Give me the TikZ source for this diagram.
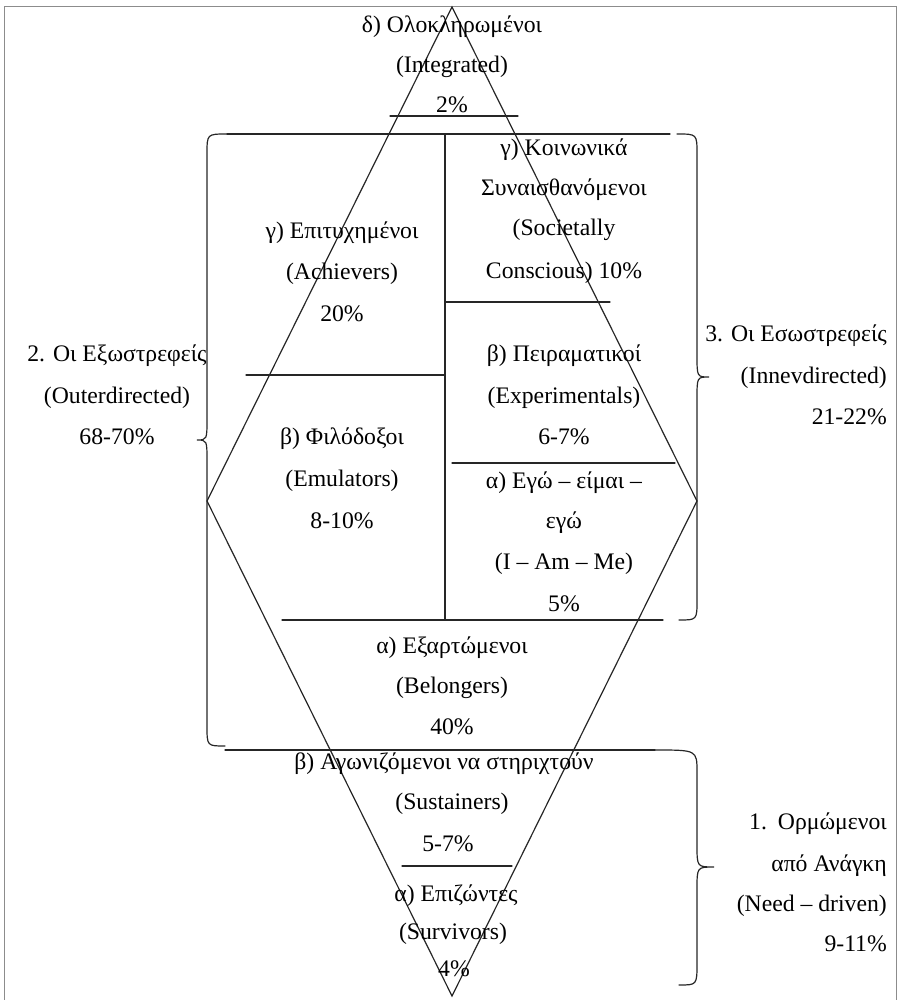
\documentclass[tikz,border=0pt]{standalone}
\usepackage{fontspec}
\setmainfont{Liberation Serif}
\begin{document}
\begin{tikzpicture}[x=1pt,y=-1pt,
  lbl/.style={font=\fontsize{23.7}{28}\selectfont, text=black, inner sep=0pt, anchor=base},
  lblr/.style={lbl, anchor=base east},
  ln/.style={line width=1.2pt, black!85, line cap=round},
  frame/.style={line width=1pt, black!45}]
\useasboundingbox (0,0) rectangle (898,1000);

% outer frame
\draw[frame] (4,1000) -- (4,7) -- (896.5,7) -- (896.5,1000);

% the diamond
\coordinate (top) at (452,7);
\coordinate (lft) at (207,501);
\coordinate (rgt) at (697,501);
\coordinate (bot) at (452,996);
\draw[ln] (top) -- (lft) -- (bot) -- (rgt) -- cycle;

% horizontal dividers
\draw[ln] (390,116) -- (518,116);
\draw[ln] (227,134) -- (670,134);
\draw[ln] (445,134) -- (445,620);
\draw[ln] (246,375) -- (445,375);
\draw[ln] (445,302) -- (610,302);
\draw[ln] (452,463) -- (675,463);
\draw[ln] (282,620) -- (663,620);
\draw[ln] (225,750) -- (655,750);
\draw[ln] (402,866) -- (512,866);

% left brace
\draw[ln] (227,134) .. controls (207,134) .. (207,154) -- (207,418)
  .. controls (207,440) .. (197,440) .. controls (207,440) .. (207,462)
  -- (207,726) .. controls (207,746) .. (225,746);
% upper right brace
\draw[ln] (677,134) .. controls (697,134) .. (697,154) -- (697,355)
  .. controls (697,377) .. (709,377) .. controls (697,377) .. (697,399)
  -- (697,600) .. controls (697,620) .. (679,620);
% lower right brace
\draw[ln] (655,750) .. controls (697,750) .. (697,772) -- (697,845)
  .. controls (697,867) .. (714,867) .. controls (697,867) .. (697,889)
  -- (697,963) .. controls (697,985) .. (679,985);

% top segment
\node[lbl] (d1) at (452,33) {δ) Ολοκληρωμένοι};
\node[lbl] (d2) at (452,73) {(Integrated)};
\node[lbl] (d3) at (452,113) {2\%};

% right column
\node[lbl] (g1) at (564,156) {γ) Κοινωνικά};
\node[lbl] (g2) at (564,196) {Συναισθανόμενοι};
\node[lbl] (g3) at (564,236) {(Societally};
\node[lbl] (g4) at (564,278) {Conscious) 10\%};
\node[lbl] (p1) at (564,361) {β) Πειραματικοί};
\node[lbl] (p2) at (564,403) {(Experimentals)};
\node[lbl] (p3) at (564,444) {6-7\%};
\node[lbl] (e1) at (564,488) {α) Εγώ – είμαι –};
\node[lbl] (e2) at (564,528) {εγώ};
\node[lbl] (e3) at (564,569) {(I – Am – Me)};
\node[lbl] (e4) at (564,611) {5\%};

% left column
\node[lbl] (a1) at (342,238) {γ) Επιτυχημένοι};
\node[lbl] (a2) at (342,279) {(Achievers)};
\node[lbl] (a3) at (342,321) {20\%};
\node[lbl] (f1) at (342,444) {β) Φιλόδοξοι};
\node[lbl] (f2) at (342,486) {(Emulators)};
\node[lbl] (f3) at (342,528) {8-10\%};

% belongers
\node[lbl] (b1) at (452,653) {α) Εξαρτώμενοι};
\node[lbl] (b2) at (452,693) {(Belongers)};
\node[lbl] (b3) at (452,734) {40\%};

% bottom segment
\node[lbl] (s1) at (444,769) {β) Αγωνιζόμενοι να στηριχτούν};
\node[lbl] (s2) at (452,809) {(Sustainers)};
\node[lbl] (s3) at (448,851) {5-7\%};
\node[lbl] (v1) at (456,901) {α) Επιζώντες};
\node[lbl] (v2) at (453,939) {(Survivors)};
\node[lbl] (v3) at (454,976) {4\%};

% group labels
\node[lbl] (o1) at (117,361) {2. Οι Εξωστρεφείς};
\node[lbl] (o2) at (117,403) {(Outerdirected)};
\node[lbl] (o3) at (117,444) {68-70\%};

\node[lblr] (i1) at (887,341) {3. Οι Εσωστρεφείς};
\node[lblr] (i2) at (887,383) {(Innevdirected)};
\node[lblr] (i3) at (887,424) {21-22\%};

\node[lblr] (n1) at (887,829) {1.\hspace{11pt}Ορμώμενοι};
\node[lblr] (n2) at (887,871) {από Ανάγκη};
\node[lblr] (n3) at (887,911) {(Need – driven)};
\node[lblr] (n4) at (887,951) {9-11\%};
\end{tikzpicture}
\end{document}
